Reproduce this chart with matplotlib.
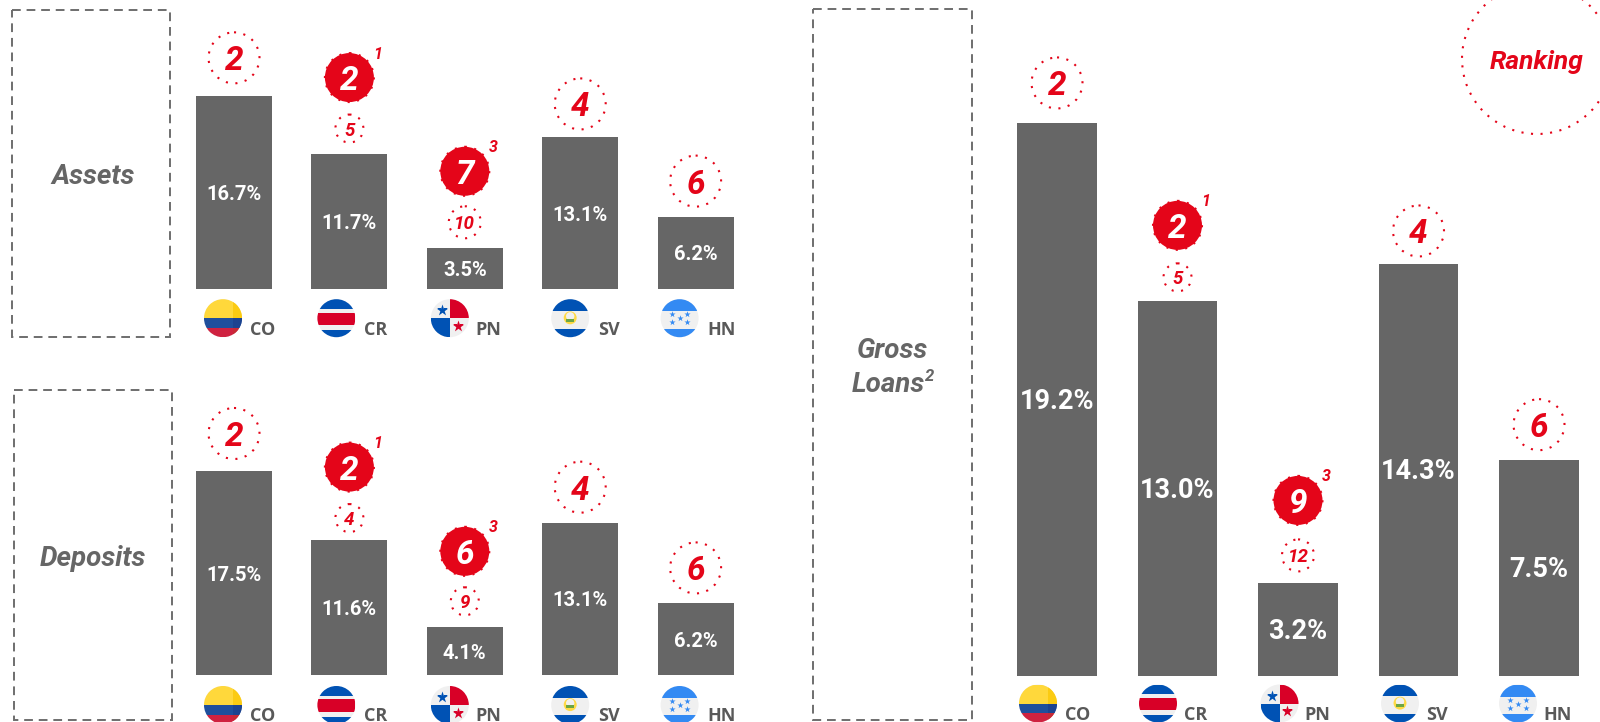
# Market share by country, with local ranking badges
import matplotlib
matplotlib.use("Agg")
import matplotlib.pyplot as plt
from matplotlib.patches import Circle, Rectangle

countries = ["CO", "CR", "PN", "SV", "HN"]

assets = [16.7, 11.7, 3.5, 13.1, 6.2]
assets_rank = [2, 2, 7, 4, 6]
assets_prev = [None, 5, 10, None, None]

deposits = [17.5, 11.6, 4.1, 13.1, 6.2]
deposits_rank = [2, 2, 6, 4, 6]
deposits_prev = [None, 4, 9, None, None]

loans = [19.2, 13.0, 3.2, 14.3, 7.5]
loans_rank = [2, 2, 9, 4, 6]
loans_prev = [None, 5, 12, None, None]

notes = [None, 1, 3, None, None]

RED = "#e40519"
GREY = "#666666"
W, H = 1600, 722

plt.rcParams["font.family"] = ["Roboto", "DejaVu Sans"]
fig = plt.figure(figsize=(W / 100, H / 100), dpi=100)

# overlay in image pixels, for boxes, badges and flags
ov = fig.add_axes([0, 0, 1, 1], zorder=5)
ov.set_xlim(0, W)
ov.set_ylim(H, 0)
ov.axis("off")


def dotted(cx, cy, r, fill="none"):
    ov.add_patch(Circle((cx, cy), r, fc=fill, ec=RED, lw=1.5, ls=(0, (1, 3.6))))


def flag(code, cx, cy, r):
    disc = Circle((cx, cy), r, fc="#f0f0f0", ec="none")
    ov.add_patch(disc)

    def band(x, y, w, h, color):
        p = Rectangle((cx + x * r, cy + y * r), w * r, h * r, fc=color, ec="none")
        ov.add_patch(p)
        p.set_clip_path(disc)

    def star(x, y, color, size):
        s = ov.scatter([cx + x * r], [cy + y * r], marker="*", s=size, c=color, lw=0, zorder=3)
        s.set_clip_path(disc)

    if code == "CO":
        band(-1, -1, 2, 1, "#ffd83b")
        band(-1, 0, 2, 0.5, "#1f4f9c")
        band(-1, 0.5, 2, 0.5, "#cf2240")
        band(0.5, -1, 0.5, 1, "#fbcb12")
        band(0.5, 0, 0.5, 0.5, "#1c4390")
        band(0.5, 0.5, 0.5, 0.5, "#c72a35")
    elif code == "CR":
        band(-1, -1, 2, 0.5, "#0052b4")
        band(-1, -0.3, 2, 0.65, "#d80027")
        band(-1, 0.62, 2, 0.4, "#0052b4")
    elif code == "PN":
        band(0, -1, 1, 1, "#d80027")
        band(-1, 0, 1, 1, "#0052b4")
        star(-0.42, -0.42, "#0052b4", 75)
        star(0.42, 0.42, "#d80027", 75)
    elif code == "SV":
        band(-1, -1, 2, 0.62, "#0052b4")
        band(-1, 0.55, 2, 0.5, "#0052b4")
        ov.add_patch(Circle((cx, cy - 0.02 * r), 0.34 * r, fc="#ffda44", ec="none"))
        ov.add_patch(Circle((cx, cy - 0.1 * r), 0.22 * r, fc="#f0f0f0", ec="none"))
        ov.add_patch(Rectangle((cx - 0.2 * r, cy + 0.02 * r), 0.4 * r, 0.16 * r, fc="#6da544", ec="none"))
    elif code == "HN":
        band(-1, -1, 2, 0.64, "#338af3")
        band(-1, 0.55, 2, 0.5, "#338af3")
        for sx, sy in [(-0.4, -0.2), (0.4, -0.2), (0, 0), (-0.4, 0.22), (0.4, 0.22)]:
            star(sx, sy, "#338af3", 22)


def panel(values, ranks, prev, x0, step, bottom, scale, gaps, flag_dx, label_dx, flag_dy, label_dy, val_size, prev_r):
    ax = fig.add_axes([(x0 - step / 2) / W, (H - bottom) / H, 5 * step / W, 21 * scale / H], zorder=1)
    ax.set_xlim(-0.5, 4.5)
    ax.set_ylim(0, 21)
    ax.axis("off")
    bars = ax.bar(range(5), values, width=76 / 115.4, color=GREY)
    labels = ax.bar_label(bars, labels=[f"{v:.1f}%" for v in values], label_type="center",
                          color="white", fontsize=val_size, fontweight="bold")
    for lab in labels:
        lab.xyann = (0, -1.5)

    for i, v in enumerate(values):
        px, py = ax.transData.transform((i, v))
        cx, top = px, H - py

        if prev[i] is None:
            cy = top - gaps[i]
            dotted(cx, cy, 25.5)
            ov.text(cx, cy, str(ranks[i]), color=RED, fontsize=24, fontweight="bold",
                    style="italic", ha="center", va="center_baseline")
        else:
            small_gap, big_gap = gaps[i]
            sy, cy = top - small_gap, top - big_gap
            dotted(cx, sy, prev_r[i])
            ov.text(cx, sy, str(prev[i]), color=RED, fontsize=13.5, fontweight="bold",
                    style="italic", ha="center", va="center_baseline")
            dotted(cx, cy, 24.5, fill=RED)
            ov.text(cx, cy, str(ranks[i]), color="white", fontsize=24, fontweight="bold",
                    style="italic", ha="center", va="center_baseline")
            ov.text(cx + 28, cy - 25, str(notes[i]), color=RED, fontsize=11.5, fontweight="bold",
                    style="italic", ha="center", va="center_baseline")

        flag(countries[i], cx + flag_dx[i], bottom + flag_dy, 19)
        ov.text(cx + label_dx[i], bottom + label_dy, countries[i], color="#595959", fontsize=13,
                fontweight="bold", family=["Open Sans", "DejaVu Sans"], ha="center", va="center_baseline")


def box(x0, y0, x1, y1):
    ov.add_patch(Rectangle((x0, y0), x1 - x0, y1 - y0, fc="none", ec="#6e6e6e", lw=1.4, ls=(0, (4.5, 3))))


def title(x, y, s):
    ov.text(x, y, s, color=GREY, fontsize=20, fontweight="bold", style="italic",
            ha="center", va="center_baseline")


small_dx = [-11, -13, -15, -10, -16]
small_lbl = [29, 26.5, 24, 28.7, 25.7]
panel(assets, assets_rank, assets_prev, 234, 115.4, 288.7, 11.55,
      [38, (25, 76), (26, 77), 33.5, 36], small_dx, small_lbl, 29.5, 39.5, 14.5, [0, 14, 16, 0, 0])
panel(deposits, deposits_rank, deposits_prev, 234, 115.4, 675, 11.63,
      [38, (22, 73), (26, 76), 35.5, 35], small_dx, small_lbl, 30, 39, 14.5, [0, 14, 14, 0, 0])
panel(loans, loans_rank, loans_prev, 1057, 120.5, 675.5, 28.78,
      [40, (24, 76), (28, 83), 33, 35], [-19, -19.5, -18.5, -18.5, -21], [20.5, 18.5, 19, 18.5, 19],
      28, 38, 19.5, [0, 14, 16, 0, 0])

box(12, 10, 170, 337)
box(14, 390, 172, 720)
box(813, 9, 971.5, 720)
title(93, 173, "Assets")
title(93, 556, "Deposits")
title(892, 347, "Gross")
title(888, 382, "Loans")
ov.text(930, 375, "2", color=GREY, fontsize=12, fontweight="bold", style="italic", ha="center", va="center_baseline")

# ranking legend, cut by the figure edge
dotted(1537, 59, 75)
ov.text(1537, 59, "Ranking", color=RED, fontsize=19, fontweight="bold", style="italic",
        ha="center", va="center_baseline")

fig.savefig("out.png", dpi=100)
